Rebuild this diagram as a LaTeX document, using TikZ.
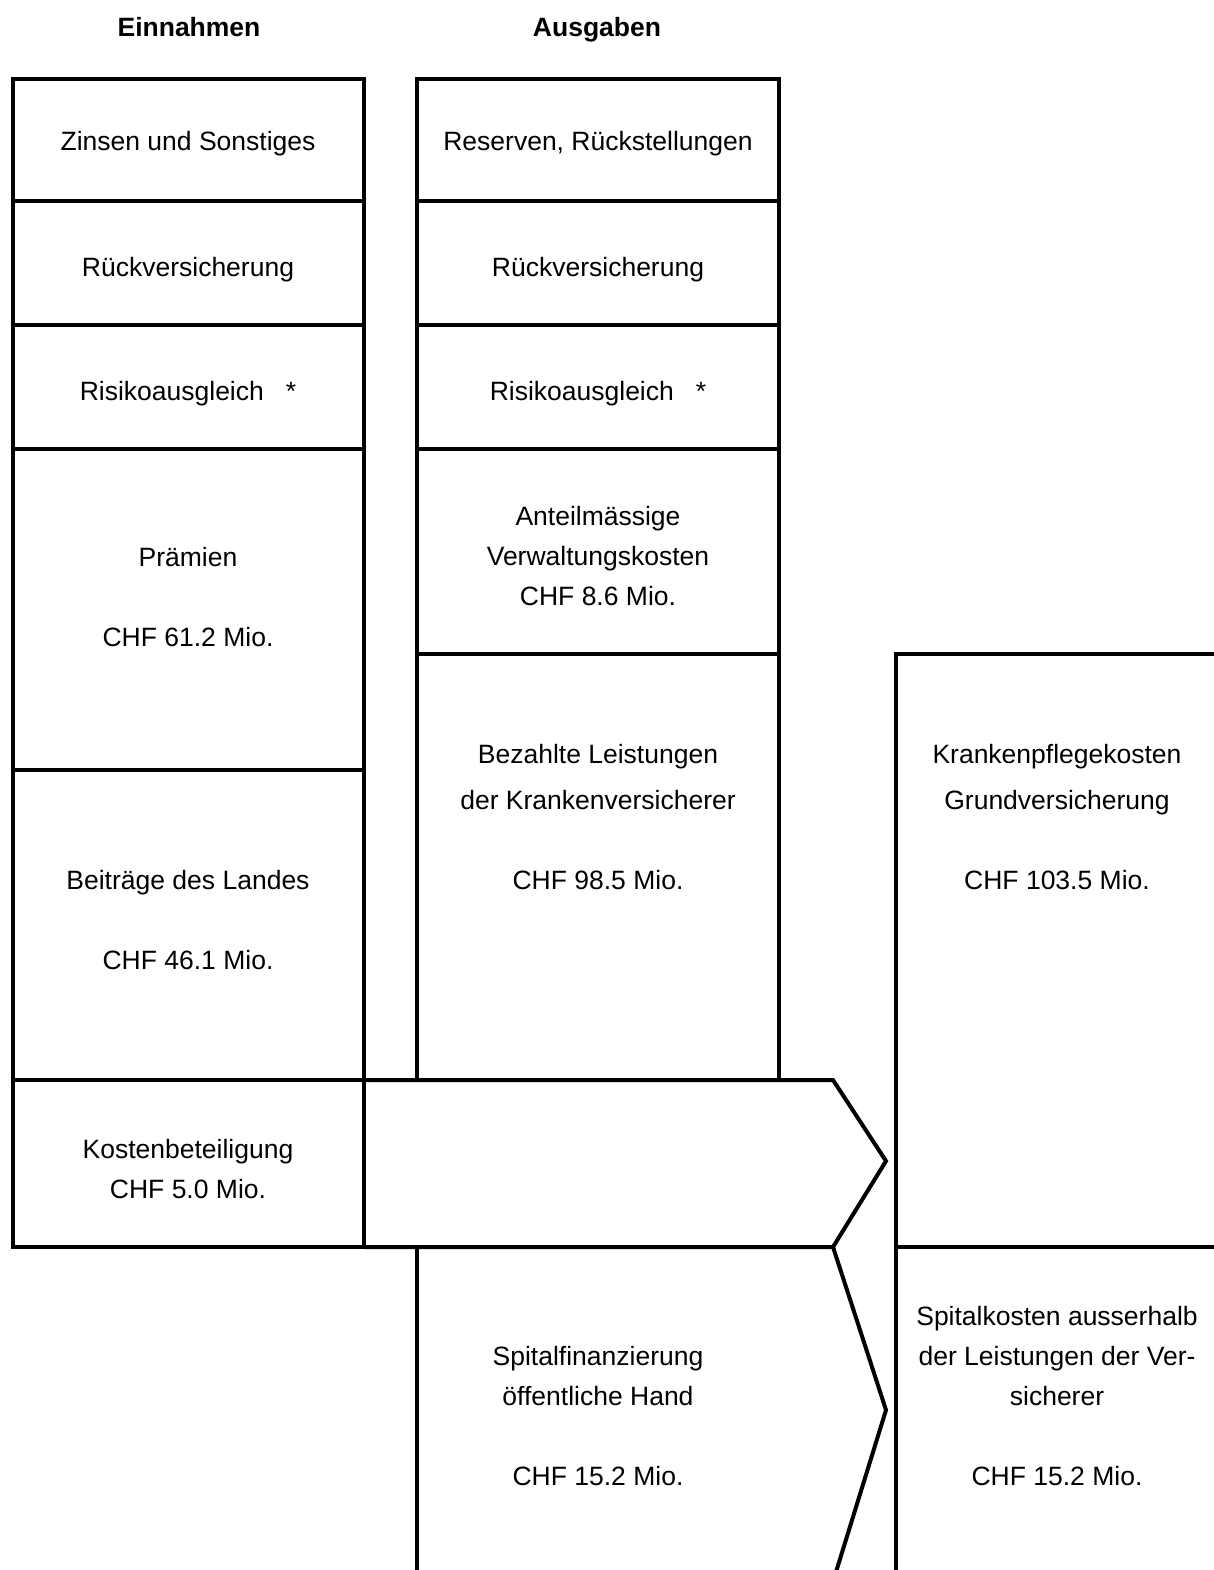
\documentclass[tikz,border=0pt]{standalone}
\usepackage{fontspec}
\setmainfont{Liberation Sans}
\begin{document}
\begin{tikzpicture}[x=1pt,y=-1pt,
  ln/.style={line width=4pt, line join=miter},
  lbl/.style={font=\fontsize{26.5}{40}\selectfont, align=center, inner sep=0pt},
  hdr/.style={font=\fontsize{26.5}{40}\selectfont\bfseries, inner sep=0pt, anchor=base}]
\useasboundingbox[fill=white] (0,0) rectangle (1213,1570);

% headings
\node[hdr] (hein) at (189,36.5) {Einnahmen};
\node[hdr] (haus) at (597,36.5) {Ausgaben};

% left column
\draw[ln] (13,79) rectangle (364,1247);
\foreach \yy in {201,325,449,770,1080} \draw[ln] (13,\yy) -- (364,\yy);

% middle column
\draw[ln] (417,1080) -- (417,79) -- (779,79) -- (779,1080);
\foreach \yy in {201,325,449,654} \draw[ln] (417,\yy) -- (779,\yy);

% arrow
\draw[ln] (364,1080) -- (833,1080) -- (886,1161) -- (833,1247) -- (364,1247);

% lower middle block
\draw[ln] (417,1245) -- (417,1572);
\draw[ln] (833,1247) -- (886,1410) -- (836,1572);

% right block
\draw[ln] (1215,654) -- (896,654) -- (896,1572);
\draw[ln] (896,1247) -- (1215,1247);

% left texts
\node[lbl] (zins) at (188,144) {Zinsen und Sonstiges};
\node[lbl] (rueckl) at (188,269.5) {Rückversicherung};
\node[lbl] (risikol) at (188,393.5) {Risikoausgleich\hspace{22pt}*};
\node[lbl] (praem) at (188,597) {Prämien\\[40pt]CHF 61.2 Mio.};
\node[lbl] (beitr) at (188,920) {Beiträge des Landes\\[40pt]CHF 46.1 Mio.};
\node[lbl] (kost) at (188,1169.5) {Kostenbeteiligung\\CHF 5.0 Mio.};

% middle texts
\node[lbl] (reserv) at (598,144) {Reserven, Rückstellungen};
\node[lbl] (rueckm) at (598,269.5) {Rückversicherung};
\node[lbl] (risikom) at (598,393.5) {Risikoausgleich\hspace{22pt}*};
\node[lbl] (verw) at (598,556.5) {Anteilmässige\\Verwaltungskosten\\CHF 8.6 Mio.};
\node[lbl] (bez) at (598,817) {Bezahlte Leistungen\\[6pt]der Krankenversicherer\\[40pt]CHF 98.5 Mio.};
\node[lbl] (spitf) at (598,1416) {Spitalfinanzierung\\öffentliche Hand\\[40pt]CHF 15.2 Mio.};

% right texts
\node[lbl] (krank) at (1057,817) {Krankenpflegekosten\\[6pt]Grundversicherung\\[40pt]CHF 103.5 Mio.};
\node[lbl] (spitk) at (1057,1396) {Spitalkosten ausserhalb\\der Leistungen der Ver-\\sicherer\\[40pt]CHF 15.2 Mio.};
\end{tikzpicture}
\end{document}
